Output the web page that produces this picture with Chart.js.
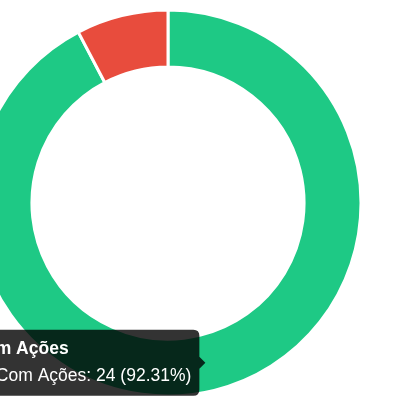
<!DOCTYPE html>
<html>
<head>
<meta charset="utf-8">
<script src="https://cdn.jsdelivr.net/npm/chart.js@4.4.1/dist/chart.umd.min.js"></script>
<style>
  html, body { margin: 0; padding: 0; background: #fff; overflow: hidden; }
  #wrap { position: absolute; left: -60px; top: 0; width: 440px; height: 400px; }
</style>
</head>
<body>
<div id="wrap"><canvas id="acoesChart"></canvas></div>
<script>
var labelArray = ['Com Ações', 'Sem Ações'];
var valueArray = [24, 2];
var colorArray = ['#1ec985', '#e84c3d'];

var acoesChart;

function pct(v) {
    var total = 0;
    for (var i = 0; i < valueArray.length; i++) total += valueArray[i];
    return (v / total * 100).toFixed(2);
}

function acoesInit() {
    var el = document.getElementById('acoesChart');

    const data = {
        labels: labelArray,
        datasets: [{
            data: valueArray,
            backgroundColor: colorArray,
            borderColor: '#ffffff',
            borderWidth: 3
        }]
    };

    const config = {
        type: 'doughnut',
        data: data,
        options: {
            responsive: true,
            maintainAspectRatio: false,
            animation: false,
            cutout: '70.5%',
            layout: {
                padding: { left: 33.5, right: 17.5, top: 8.5, bottom: 2.5 }
            },
            plugins: {
                legend: { display: false },
                tooltip: {
                    xAlign: 'right',
                    yAlign: 'center',
                    padding: { top: 9, bottom: 9, left: 8, right: 8 },
                    boxPadding: 4,
                    caretSize: 6,
                    cornerRadius: 6,
                    titleFont: { size: 17.5, weight: 'bold' },
                    bodyFont: { size: 17.5 },
                    callbacks: {
                        label: function (ctx) {
                            return ctx.label + ': ' + ctx.parsed + ' (' + pct(ctx.parsed) + '%)';
                        }
                    }
                }
            }
        }
    };

    acoesChart = new Chart(el, config);

    // tooltip aberto no segmento verde
    acoesChart.tooltip.setActiveElements([{ datasetIndex: 0, index: 0 }], { x: 0, y: 0 });
    acoesChart.update('none');
}

acoesInit();
</script>
</body>
</html>
